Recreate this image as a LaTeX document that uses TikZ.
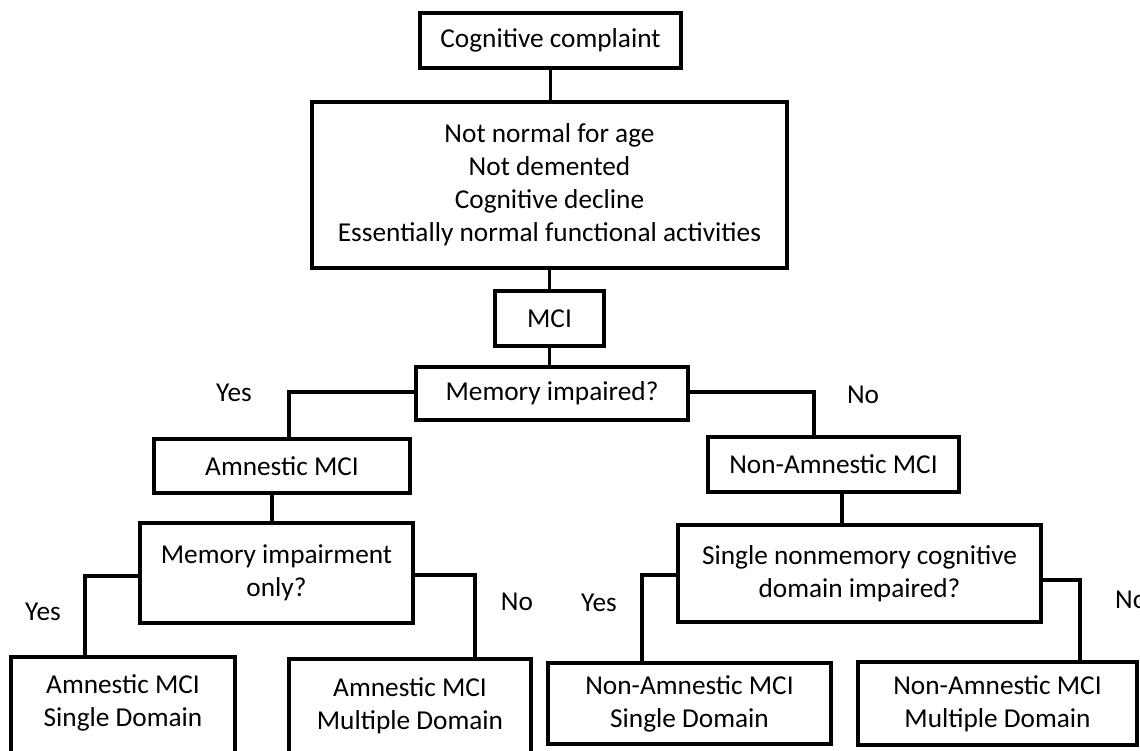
\documentclass[tikz,border=0pt]{standalone}
\usepackage{fontspec}
\setmainfont{Carlito}
\begin{document}
\begin{tikzpicture}[x=1pt,y=-1pt,
  box/.style={draw=black,line width=3.8pt,rectangle,inner sep=0pt,align=center,font=\fontsize{27.3}{33}\selectfont},
  txt/.style={inner sep=0pt,align=center,font=\fontsize{27.3}{33}\selectfont},
  conn/.style={draw=black,line width=3.8pt}]
\useasboundingbox (0,0) rectangle (1140,751);
\fill[white] (0,0) rectangle (1140,751);
% boxes
\node[box,minimum width=261pt,minimum height=55pt] (cc) at (550.5,40.5) {Cognitive complaint};
\node[box,minimum width=475pt,minimum height=166pt] (crit) at (549.5,185) {Not normal for age\\Not demented\\Cognitive decline\\Essentially normal functional activities};
\node[box,minimum width=109pt,minimum height=55pt] (mci) at (549.5,318.5) {MCI};
\node[box,minimum width=272pt,minimum height=53pt] (mem) at (552,393.5) {Memory impaired?};
\node[box,minimum width=256pt,minimum height=54pt] (amn) at (282,466) {Amnestic MCI};
\node[box,minimum width=251pt,minimum height=55pt] (namn) at (833.5,464.5) {Non-Amnestic MCI};
\node[box,minimum width=273pt,minimum height=100pt] (memonly) at (276.5,573) {Memory impairment\\only?};
\node[box,minimum width=363pt,minimum height=97pt] (single) at (859.5,573.5) {Single nonmemory cognitive\\domain impaired?};
\node[box,minimum width=224pt,minimum height=113pt] (asd) at (123,713.5) {};
\node[txt] (asdt) at (123,703) {Amnestic MCI\\Single Domain};
\node[box,minimum width=242pt,minimum height=111pt] (amd) at (410,714.5) {};
\node[txt] (amdt) at (410,705.5) {Amnestic MCI\\Multiple Domain};
\node[box,minimum width=283pt,minimum height=81pt] (nasd) at (689.5,703.5) {Non-Amnestic MCI\\Single Domain};
\node[box,minimum width=279pt,minimum height=83pt] (namd) at (997.5,703.5) {Non-Amnestic MCI\\Multiple Domain};
% labels
\node[txt] (y1) at (234,393) {Yes};
\node[txt] (n1) at (863,395) {No};
\node[txt] (y2) at (43,612) {Yes};
\node[txt] (n2) at (517,602) {No};
\node[txt] (y3) at (599,603) {Yes};
\node[txt,anchor=west] (n3) at (1115,600) {No};
% connectors
\draw[conn] (cc.south) -- (cc.south |- crit.north);
\draw[conn] (crit.south) -- (crit.south |- mci.north);
\draw[conn] (mci.south) -- (mci.south |- mem.north);
\draw[conn] ([yshift=1.5pt]mem.west) -| ([xshift=7pt]amn.north);
\draw[conn] ([yshift=1.5pt]mem.east) -| ([xshift=-19.5pt]namn.north);
\draw[conn] ([xshift=-10pt]amn.south) -- ([xshift=-10pt]amn.south |- memonly.north);
\draw[conn] ([xshift=8.5pt]namn.south) -- ([xshift=8.5pt]namn.south |- single.north);
\draw[conn] ([yshift=-3pt]memonly.west) -| ([xshift=-38pt]asd.north);
\draw[conn] ([yshift=-2pt]memonly.east) -| ([xshift=65pt]amd.north);
\draw[conn] ([yshift=-1.5pt]single.west) -| ([xshift=-47.5pt]nasd.north);
\draw[conn] ([yshift=-6.5pt]single.east) -| ([xshift=82.5pt]namd.north);
\end{tikzpicture}
\end{document}
